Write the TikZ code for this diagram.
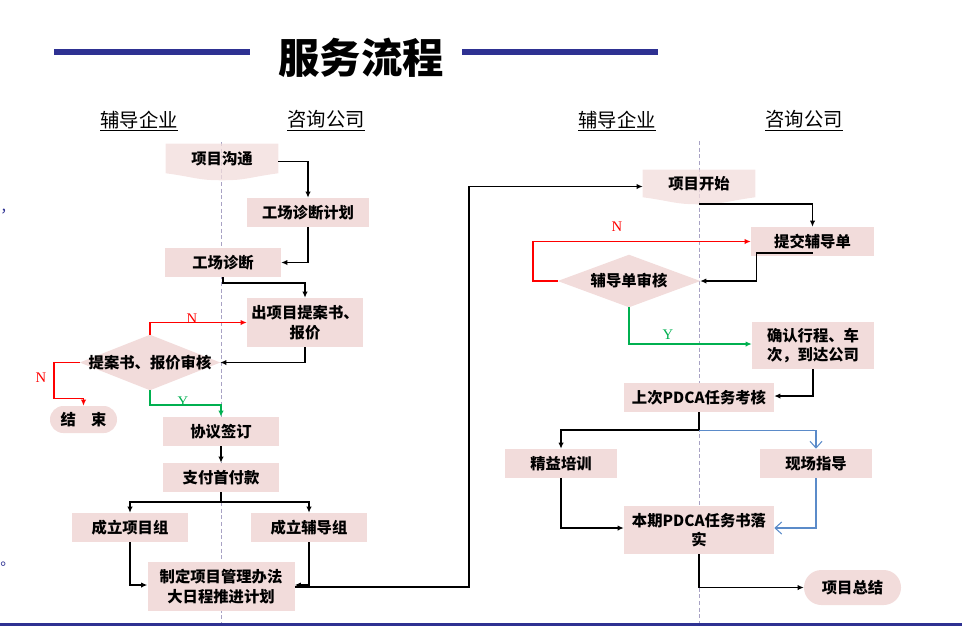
\documentclass[tikz,border=0pt]{standalone}
\usepackage{fontspec}
\newfontfamily\cjk{Noto Sans CJK SC}
\newfontfamily\tms{Liberation Serif}
\usetikzlibrary{arrows.meta,backgrounds,calc}
\definecolor{boxpink}{HTML}{F2DCDB}
\definecolor{navy}{HTML}{2E3192}
\definecolor{okgreen}{HTML}{00B050}
\definecolor{flowblue}{HTML}{5B8BC9}
\definecolor{dashc}{HTML}{A8A2C4}
\begin{document}
\begin{tikzpicture}[x=0.75pt,y=-0.75pt,
  box/.style={fill=boxpink, inner sep=0pt, align=center, text=black,
    font=\cjk\bfseries\fontsize{11.5}{14.5}\selectfont},
  ghost/.style={inner sep=0pt, align=center, text=black,
    font=\cjk\bfseries\fontsize{11.5}{14.5}\selectfont},
  hdr/.style={inner sep=0pt, font=\cjk\fontsize{14.5}{16}\selectfont},
  lab/.style={inner sep=0pt, font=\tms\fontsize{11}{12}\selectfont},
  ar/.style={line width=1.4pt, -{Latex[length=4.5pt,width=4pt]}},
  arred/.style={line width=1.2pt, draw=red, -{Latex[length=4.5pt,width=4pt]}},
  argreen/.style={line width=1.2pt, draw=okgreen, -{Latex[length=4.5pt,width=4pt]}},
  arblue/.style={line width=0.8pt, draw=flowblue, -{Straight Barb[length=5pt,width=9pt]}},
  midline/.style={draw=dashc, line width=0.6pt, dash pattern=on 3pt off 2pt},
  titleline/.style={draw=navy, line width=3.8pt},
  frag/.style={anchor=west, inner sep=0pt, font=\cjk\fontsize{11}{11}\selectfont, text=navy}
]
\useasboundingbox (0,0) rectangle (962,626);

% title
\node[inner sep=0pt, font=\cjk\bfseries\fontsize{31}{34}\selectfont] (title) at (361,58) {服务流程};
\coordinate (tl1) at (54,52); \coordinate (tl2) at (250,52);
\coordinate (tr1) at (462,52); \coordinate (tr2) at (658,52);
\draw[titleline] (tl1) -- (tl2);
\draw[titleline] (tr1) -- (tr2);

% headers
\node[hdr] (h1) at (139,121) {\underline{辅导企业}};
\node[hdr] (h2) at (326,121) {\underline{咨询公司}};
\node[hdr] (h3) at (617,121) {\underline{辅导企业}};
\node[hdr] (h4) at (804,121) {\underline{咨询公司}};

% edge fragments
\node[frag] (frag1) at (0,212) {，};
\node[frag] (frag2) at (0,564) {。};

% bottom line
\coordinate (bl1) at (0,624.5); \coordinate (bl2) at (962,624.5);
\draw[navy, line width=1.8pt] (bl1) -- (bl2);

% ---------- left half nodes ----------
\node[ghost, minimum width=84pt, minimum height=21.75pt] (goutong) at (222,158.5) {项目沟通};
\node[box, minimum width=91.5pt, minimum height=21.75pt] (jihua) at (308,212.5) {工场诊断计划};
\node[box, minimum width=87pt, minimum height=21.75pt] (zhenduan) at (223,262.5) {工场诊断};
\node[box, minimum width=87pt, minimum height=36.75pt] (tian) at (305,322.5) {出项目提案书、\\报价};
\node[ghost, minimum width=105pt, minimum height=41.25pt] (d1) at (150,362.5) {提案书、报价审核};
\node[box, minimum width=50.25pt, minimum height=20.25pt, rounded corners=10pt] (jieshu) at (83.5,419.5) {结\quad 束};
\node[box, minimum width=87pt, minimum height=21.75pt] (xieyi) at (221,431.5) {协议签订};
\node[box, minimum width=87pt, minimum height=21.75pt] (zhifu) at (221,477.5) {支付首付款};
\node[box, minimum width=87pt, minimum height=21.75pt] (xmz) at (130,527.5) {成立项目组};
\node[box, minimum width=87pt, minimum height=21.75pt] (fdz) at (309,527.5) {成立辅导组};
\node[box, minimum width=110.25pt, minimum height=36.75pt] (zhiding) at (221,586.5) {制定项目管理办法\\大日程推进计划};

% ---------- right half nodes ----------
\node[ghost, minimum width=84pt, minimum height=20.25pt] (kaishi) at (699,183.5) {项目开始};
\node[box, minimum width=92.25pt, minimum height=21.75pt] (tijiao) at (812.5,241.5) {提交辅导单};
\node[ghost, minimum width=106.5pt, minimum height=39pt] (d2) at (629,281) {辅导单审核};
\node[box, minimum width=91.5pt, minimum height=35.25pt] (queren) at (813,345.5) {确认行程、车\\次，到达公司};
\node[box, minimum width=112.5pt, minimum height=21.75pt] (shangci) at (699,397.5) {上次PDCA任务考核};
\node[box, minimum width=84pt, minimum height=21.75pt] (jingyi) at (561,463.5) {精益培训};
\node[box, minimum width=84pt, minimum height=21.75pt] (xianchang) at (816,463.5) {现场指导};
\node[box, minimum width=112.5pt, minimum height=36pt] (benqi) at (699,530) {本期PDCA任务书落\\实};
\node[box, minimum width=72.75pt, minimum height=26.25pt, rounded corners=13pt] (zongjie) at (852.5,587.5) {项目总结};

\coordinate (gb) at ($(goutong.south)+(0,7)$);
\coordinate (kb) at ($(kaishi.south)+(0,7)$);

\begin{scope}[on background layer]
  \coordinate (m1a) at (221,142); \coordinate (m1b) at (221,626);
  \coordinate (m2a) at (699,141); \coordinate (m2b) at (699,626);
  \draw[midline] (m1a) -- (m1b);
  \draw[midline] (m2a) -- (m2b);
  \fill[boxpink, fill opacity=0.75] (goutong.north west) -- (goutong.north east) -- (goutong.south east)
     .. controls +(-30,4) and +(25,0) .. (gb) .. controls +(-25,0) and +(30,4) .. (goutong.south west) -- cycle;
  \fill[boxpink, fill opacity=0.75] (kaishi.north west) -- (kaishi.north east) -- (kaishi.south east)
     .. controls +(-30,4) and +(25,0) .. (kb) .. controls +(-25,0) and +(30,4) .. (kaishi.south west) -- cycle;
  \fill[boxpink] (d1.north) -- (d1.east) -- (d1.south) -- (d1.west) -- cycle;
  \fill[boxpink] (d2.north) -- (d2.east) -- (d2.south) -- (d2.west) -- cycle;
\end{scope}

% ---------- left connectors ----------
\draw[ar] ($(goutong.east)+(0,3)$) -| (jihua.north);
\draw[ar] (jihua.south) |- (zhenduan.east);
\draw[ar] (zhenduan.south) -- ++(0,6) -| (tian.north);
\draw[ar] (tian.south) |- (d1.east);
\draw[arred] (d1.north) |- (tian.west);
\draw[arred] (d1.west) -- ++(-26,0) -- ++(0,36) -| (jieshu.north);
\draw[argreen] (d1.south) -- ++(0,15) -| (xieyi.north);
\draw[ar] (xieyi.south) -- (zhifu.north);
\draw[line width=1.4pt] (zhifu.south) -- ++(0,10) coordinate (sp1);
\draw[ar] (sp1) -| (xmz.north);
\draw[ar] (sp1) -| (fdz.north);
\draw[ar] (xmz.south) |- ($(zhiding.west)+(0,-1.5)$);
\draw[ar] (fdz.south) |- ($(zhiding.east)+(0,-1.5)$);
\coordinate (lnk) at (469,587);
\draw[ar] ($(zhiding.east)+(0,0.5)$) -- (lnk) |- ($(kaishi.west)+(0,3)$);

\node[lab, text=red, anchor=south] (n1) at (192,324) {N};
\node[lab, text=red] (n2) at (41,378) {N};
\node[lab, text=okgreen, anchor=south] (y1) at (183,407) {Y};

% ---------- right connectors ----------
\draw[ar] (kb) -| (tijiao.north);
\draw[ar] ($(tijiao.south)+(0,-3)$) -- ++(-56,0) |- (d2.east);
\draw[arred] (d2.west) -- ++(-25,0) |- (tijiao.west);
\draw[argreen] (d2.south) |- ($(queren.west)+(0,-1.5)$);
\draw[ar] (queren.south) |- ($(shangci.east)+(0,-1.5)$);
\draw[line width=1.4pt] (shangci.south) -- ++(0,18) coordinate (sp2);
\draw[ar] (sp2) -| (jingyi.north);
\draw[arblue] (sp2) -| (xianchang.north);
\draw[ar] (jingyi.south) |- ($(benqi.west)+(0,-2)$);
\draw[arblue] (xianchang.south) |- ($(benqi.east)+(0,-2)$);
\draw[ar] (benqi.south) |- (zongjie.west);

\node[lab, text=red] (n3) at (617,227) {N};
\node[lab, text=okgreen] (y2) at (668,335) {Y};
\end{tikzpicture}
\end{document}
